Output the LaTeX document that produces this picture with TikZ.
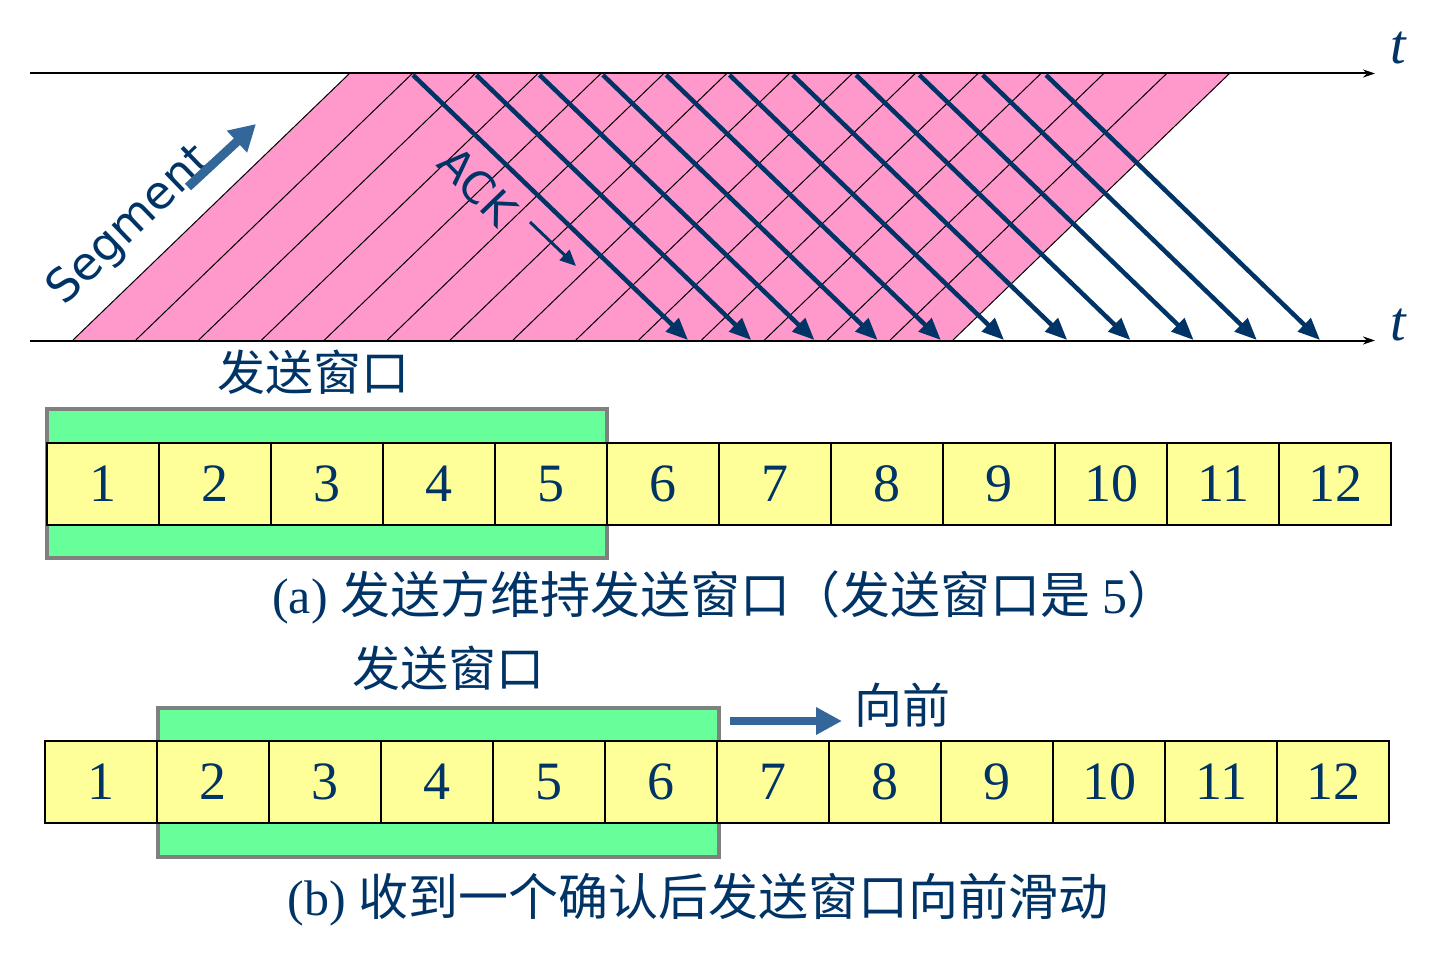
\documentclass[tikz,border=0pt]{standalone}
\usepackage{fontspec}
\setmainfont{Liberation Serif}
\newfontfamily\cjk{Noto Sans CJK SC}
\newfontfamily\dv{DejaVu Sans}
\usetikzlibrary{arrows.meta}
\definecolor{navy}{HTML}{003366}
\definecolor{pinkf}{HTML}{FF99CC}
\definecolor{greenf}{HTML}{66FF99}
\definecolor{yellowf}{HTML}{FFFF99}
\definecolor{arrowblue}{HTML}{336699}
\tikzset{
 cell/.style={draw=black,line width=1.5pt,fill=yellowf,minimum width=112pt,minimum height=82pt,inner sep=0pt,font=\fontsize{54}{54}\selectfont,text=navy},
 win/.style={draw=gray,line width=4pt,fill=greenf},
 lbl/.style={text=navy,font=\cjk\fontsize{48}{48}\selectfont,inner sep=0pt},
 captxt/.style={text=navy,font=\fontsize{50}{50}\selectfont,inner sep=0pt},
 ack/.style={navy,line width=4.5pt,-{Triangle[length=22pt,width=18pt]}},
 axis/.style={black,line width=2pt,-{Stealth[length=12pt,width=8pt]}}
}
\begin{document}
\begin{tikzpicture}[x=1pt,y=-1pt]
\useasboundingbox (0,0) rectangle (1436,958);
% timeline
\fill[pinkf] (73,340) -- (350,73) -- (1230,73) -- (953,340) -- cycle;
\draw[line width=1pt] (73,340) -- (350,73);
\draw[line width=1pt] (953,340) -- (1230,73);
\foreach \i in {1,...,13} \draw[line width=1pt] (73+62.86*\i,340) -- (350+62.86*\i,73);
\coordinate (tl0) at (30,73.5); \coordinate (tl1) at (1375,73.5);
\coordinate (bl0) at (30,340.5); \coordinate (bl1) at (1375,340.5);
\draw[axis] (tl0) -- (tl1);
\draw[axis] (bl0) -- (bl1);
\node[text=navy,font=\itshape\fontsize{56}{56}\selectfont] (t1) at (1398,48) {t};
\node[text=navy,font=\itshape\fontsize{56}{56}\selectfont] (t2) at (1398,325) {t};
\foreach \i in {0,...,10} \draw[ack] (413+63.3*\i,75) -- (688+63.2*\i,340);
\node[text=navy,font=\dv\fontsize{46}{46}\selectfont,rotate=44] (seg) at (130,226) {Segment};
\coordinate (sa0) at (188,187); \coordinate (sa1) at (256,124);
\draw[arrowblue,line width=9pt,-{Triangle[length=26pt,width=28pt]}] (sa0) -- (sa1);
\node[text=navy,font=\dv\fontsize{44}{44}\selectfont,rotate=-46] (ackl) at (478,186) {ACK};
\coordinate (aa0) at (530,222); \coordinate (aa1) at (576,266);
\draw[navy,line width=3pt,-{Triangle[length=16pt,width=14pt]}] (aa0) -- (aa1);
% (a)
\node[lbl] (wa) at (313,372) {发送窗口};
\draw[win] (47,409) rectangle (607,558);
\foreach \i in {1,...,12} \node[cell] (a\i) at (47+112*\i-56,484) {\i};
\node[captxt] (ca) at (725,597) {(a) {\cjk 发送方维持发送窗口（发送窗口是} 5{\cjk ）}};
% (b)
\node[lbl] (wb) at (448,668) {发送窗口};
\draw[win] (158,708) rectangle (719,857);
\foreach \i in {1,...,12} \node[cell] (b\i) at (45+112*\i-56,782) {\i};
\coordinate (fa0) at (730,721); \coordinate (fa1) at (842,721);
\draw[arrowblue,line width=8pt,-{Triangle[length=26pt,width=26pt]}] (fa0) -- (fa1);
\node[lbl] (fw) at (902,705) {向前};
\node[captxt] (cb) at (698,900) {(b) {\cjk 收到一个确认后发送窗口向前滑动}};
\end{tikzpicture}
\end{document}
